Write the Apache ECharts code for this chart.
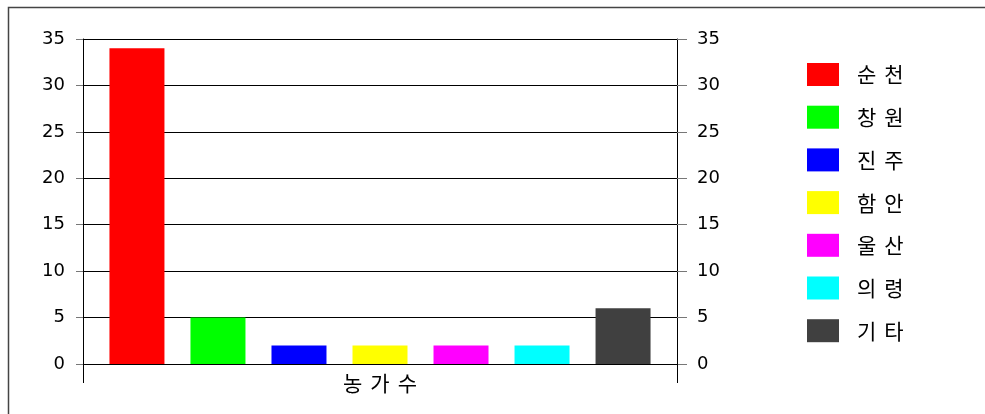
<!DOCTYPE html>
<html>
<head>
<meta charset="utf-8">
<script src="https://cdn.jsdelivr.net/npm/echarts@6/dist/echarts.min.js"></script>
<style>html,body{margin:0;padding:0;background:#fff;}#c{width:985px;height:414px;}</style>
</head>
<body>
<div id="c"></div>
<script>
var categories = ['농가수'];
var seriesNames = ['순천', '창원', '진주', '함안', '울산', '의령', '기타'];
var seriesValues = [34, 5, 2, 2, 2, 2, 6];
var seriesColors = ['#ff0000', '#00ff00', '#0000ff', '#ffff00', '#ff00ff', '#00ffff', '#404040'];
var yTicks = { min: 0, max: 35, interval: 5 };

var numFont = '"DejaVu Sans", "Liberation Sans", sans-serif';
var krFont = '"Noto Sans CJK KR", sans-serif';

// letter-spaced rendering of Korean labels via rich text (characters unchanged)
function spaced(str) {
  return str.split('').map(function (ch, i) {
    return (i === 0 ? '{f|' : '{s|') + ch + '}';
  }).join('');
}

var chart = echarts.init(document.getElementById('c'));
var series = seriesNames.map(function (n, i) {
  return {
    name: n, type: 'bar', data: [seriesValues[i]],
    barWidth: 55, barGap: '47.3%',
    itemStyle: { color: seriesColors[i] }
  };
});
var yAxisBase = {
  type: 'value', min: yTicks.min, max: yTicks.max, interval: yTicks.interval,
  axisLine: { show: true, lineStyle: { color: '#000', width: 1 } },
  axisTick: { show: true, length: 7, lineStyle: { color: '#777' } },
  axisLabel: { color: '#000', fontSize: 18, fontFamily: numFont }
};
chart.setOption({
  animation: false,
  backgroundColor: '#fff',
  grid: { left: 83, right: 308, top: 39, bottom: 50 },
  xAxis: {
    type: 'category', data: categories,
    axisLine: { show: true, lineStyle: { color: '#000', width: 1 } },
    axisTick: { show: true, length: 19, lineStyle: { color: '#000' } },
    axisLabel: {
      color: '#000', fontSize: 21, margin: 9, fontFamily: krFont,
      formatter: function (v) { return spaced(v); },
      rich: {
        f: { fontSize: 21, fontFamily: krFont, color: '#000' },
        s: { fontSize: 21, fontFamily: krFont, color: '#000', padding: [0, 0, 0, 8] }
      }
    },
    splitLine: { show: false }
  },
  yAxis: [
    Object.assign({}, yAxisBase, {
      position: 'left',
      axisLabel: Object.assign({}, yAxisBase.axisLabel, { margin: 18 }),
      splitLine: { show: true, lineStyle: { color: '#000', width: 1 } }
    }),
    Object.assign({}, yAxisBase, {
      position: 'right',
      axisTick: { show: true, length: 10, lineStyle: { color: '#777' } },
      axisLabel: Object.assign({}, yAxisBase.axisLabel, { margin: 20 }),
      splitLine: { show: false }
    })
  ],
  legend: {
    orient: 'vertical', left: 807, top: 63, padding: 0,
    itemWidth: 32, itemHeight: 23, itemGap: 19.7,
    icon: 'rect',
    data: seriesNames,
    formatter: function (n) { return spaced(n); },
    textStyle: {
      color: '#000', fontSize: 21, padding: [0, 0, 0, 13], fontFamily: krFont,
      rich: {
        f: { fontSize: 21, fontFamily: krFont, color: '#000' },
        s: { fontSize: 21, fontFamily: krFont, color: '#000', padding: [0, 0, 0, 8] }
      }
    }
  },
  graphic: [
    { type: 'rect', left: 6, top: 5, shape: { width: 1100, height: 500 }, style: { fill: 'none', stroke: '#444', lineWidth: 1.5 }, silent: true }
  ],
  series: series
});
</script>
</body>
</html>
